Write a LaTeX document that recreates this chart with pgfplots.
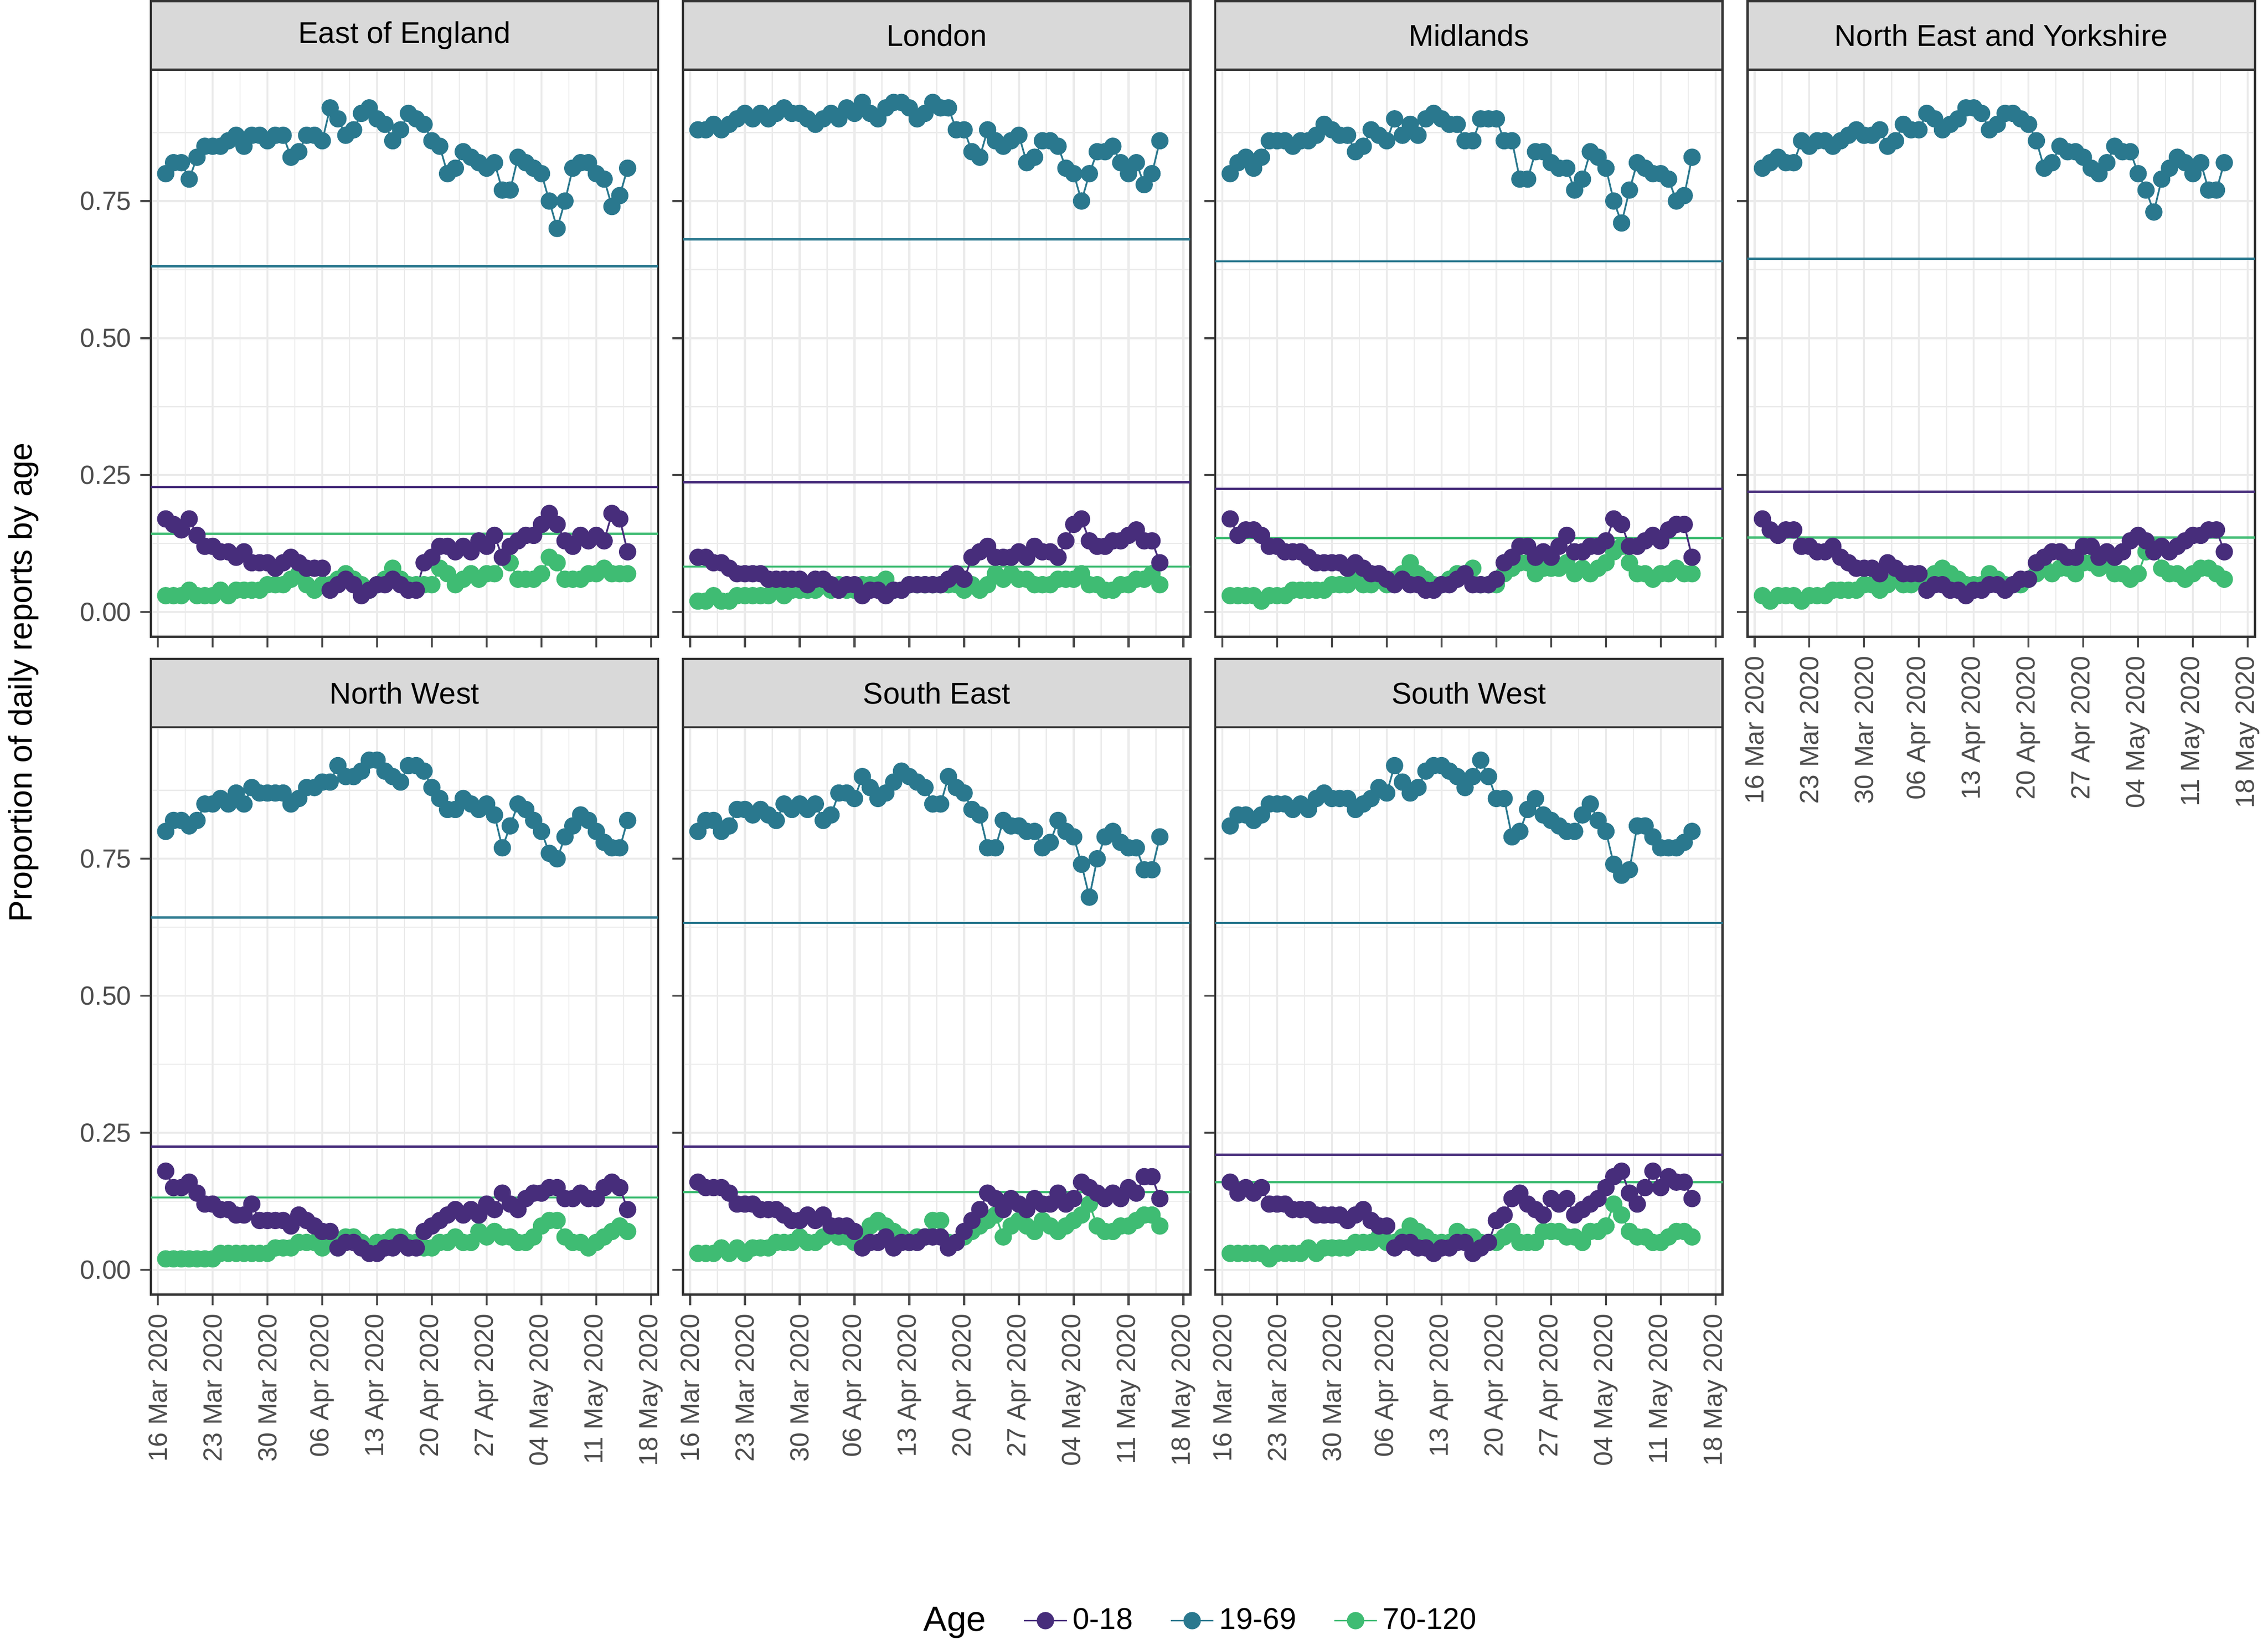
\documentclass[border=0pt]{standalone}
\usepackage{pgfplots}
\pgfplotsset{compat=1.18}
\usepackage{pgfplotstable}
\usepgfplotslibrary{groupplots}
\usepackage{fontspec}
\setmainfont{Liberation Sans}
\definecolor{cA}{HTML}{472D7B}
\definecolor{cB}{HTML}{2A788E}
\definecolor{cC}{HTML}{3FBC73}
\definecolor{gridc}{HTML}{EBEBEB}
\definecolor{tickc}{HTML}{4D4D4D}
\pgfplotstableread{
d a b c
1 .17 .80 .03
2 .16 .82 .03
3 .15 .82 .03
4 .17 .79 .04
5 .14 .83 .03
6 .12 .85 .03
7 .12 .85 .03
8 .11 .85 .04
9 .11 .86 .03
10 .10 .87 .04
11 .11 .85 .04
12 .09 .87 .04
13 .09 .87 .04
14 .09 .86 .05
15 .08 .87 .05
16 .09 .87 .05
17 .10 .83 .06
18 .09 .84 .07
19 .08 .87 .05
20 .08 .87 .04
21 .08 .86 .05
22 .04 .92 .05
23 .05 .90 .06
24 .06 .87 .07
25 .05 .88 .06
26 .03 .91 .05
27 .04 .92 .04
28 .05 .90 .05
29 .05 .89 .06
30 .06 .86 .08
31 .05 .88 .06
32 .04 .91 .05
33 .04 .90 .05
34 .09 .89 .05
35 .10 .86 .05
36 .12 .85 .08
37 .12 .80 .07
38 .11 .81 .05
39 .12 .84 .06
40 .11 .83 .07
41 .13 .82 .06
42 .12 .81 .07
43 .14 .82 .07
44 .10 .77 .10
45 .12 .77 .09
46 .13 .83 .06
47 .14 .82 .06
48 .14 .81 .06
49 .16 .80 .07
50 .18 .75 .10
51 .16 .70 .09
52 .13 .75 .06
53 .12 .81 .06
54 .14 .82 .06
55 .13 .82 .07
56 .14 .80 .07
57 .13 .79 .08
58 .18 .74 .07
59 .17 .76 .07
60 .11 .81 .07
}\tEE
\pgfplotstableread{
d a b c
1 .10 .88 .02
2 .10 .88 .02
3 .09 .89 .03
4 .09 .88 .02
5 .08 .89 .02
6 .07 .90 .03
7 .07 .91 .03
8 .07 .90 .03
9 .07 .91 .03
10 .06 .90 .03
11 .06 .91 .04
12 .06 .92 .03
13 .06 .91 .04
14 .06 .91 .04
15 .05 .90 .04
16 .06 .89 .04
17 .06 .90 .05
18 .05 .91 .04
19 .04 .90 .05
20 .05 .92 .04
21 .05 .91 .04
22 .03 .93 .05
23 .04 .91 .05
24 .04 .90 .05
25 .03 .92 .06
26 .04 .93 .04
27 .04 .93 .04
28 .05 .92 .05
29 .05 .90 .05
30 .05 .91 .05
31 .05 .93 .05
32 .05 .92 .05
33 .06 .92 .05
34 .07 .88 .05
35 .06 .88 .04
36 .10 .84 .05
37 .11 .83 .04
38 .12 .88 .05
39 .10 .86 .07
40 .10 .85 .06
41 .10 .86 .07
42 .11 .87 .06
43 .10 .82 .06
44 .12 .83 .05
45 .11 .86 .05
46 .11 .86 .05
47 .10 .85 .06
48 .13 .81 .06
49 .16 .80 .06
50 .17 .75 .07
51 .13 .80 .05
52 .12 .84 .05
53 .12 .84 .04
54 .13 .85 .04
55 .13 .82 .05
56 .14 .80 .05
57 .15 .82 .06
58 .13 .78 .06
59 .13 .80 .07
60 .09 .86 .05
}\tLO
\pgfplotstableread{
d a b c
1 .17 .80 .03
2 .14 .82 .03
3 .15 .83 .03
4 .15 .81 .03
5 .14 .83 .02
6 .12 .86 .03
7 .12 .86 .03
8 .11 .86 .03
9 .11 .85 .04
10 .11 .86 .04
11 .10 .86 .04
12 .09 .87 .04
13 .09 .89 .04
14 .09 .88 .05
15 .09 .87 .05
16 .08 .87 .05
17 .09 .84 .06
18 .08 .85 .05
19 .07 .88 .05
20 .07 .87 .06
21 .06 .86 .05
22 .05 .90 .06
23 .06 .87 .07
24 .05 .89 .09
25 .05 .87 .07
26 .04 .90 .06
27 .04 .91 .05
28 .05 .90 .05
29 .05 .89 .06
30 .06 .89 .07
31 .07 .86 .07
32 .05 .86 .08
33 .05 .90 .05
34 .05 .90 .05
35 .06 .90 .05
36 .09 .86 .07
37 .10 .86 .08
38 .12 .79 .09
39 .12 .79 .09
40 .10 .84 .07
41 .11 .84 .08
42 .10 .82 .08
43 .12 .81 .08
44 .14 .81 .09
45 .11 .77 .07
46 .11 .79 .08
47 .12 .84 .07
48 .12 .83 .08
49 .13 .81 .09
50 .17 .75 .11
51 .16 .71 .12
52 .12 .77 .09
53 .12 .82 .07
54 .13 .81 .07
55 .14 .80 .06
56 .13 .80 .07
57 .15 .79 .07
58 .16 .75 .08
59 .16 .76 .07
60 .10 .83 .07
}\tMI
\pgfplotstableread{
d a b c
1 .17 .81 .03
2 .15 .82 .02
3 .14 .83 .03
4 .15 .82 .03
5 .15 .82 .03
6 .12 .86 .02
7 .12 .85 .03
8 .11 .86 .03
9 .11 .86 .03
10 .12 .85 .04
11 .10 .86 .04
12 .09 .87 .04
13 .08 .88 .04
14 .08 .87 .05
15 .08 .87 .05
16 .07 .88 .04
17 .09 .85 .05
18 .08 .86 .06
19 .07 .89 .05
20 .07 .88 .05
21 .07 .88 .06
22 .04 .91 .06
23 .05 .90 .07
24 .05 .88 .08
25 .04 .89 .07
26 .04 .90 .06
27 .03 .92 .05
28 .04 .92 .05
29 .04 .91 .05
30 .05 .88 .07
31 .05 .89 .06
32 .04 .91 .05
33 .05 .91 .05
34 .06 .90 .05
35 .06 .89 .06
36 .09 .86 .07
37 .10 .81 .08
38 .11 .82 .07
39 .11 .85 .08
40 .10 .84 .08
41 .10 .84 .07
42 .12 .83 .09
43 .12 .81 .09
44 .10 .80 .08
45 .11 .82 .09
46 .10 .85 .07
47 .11 .84 .07
48 .13 .84 .06
49 .14 .80 .07
50 .13 .77 .11
51 .11 .73 .12
52 .12 .79 .08
53 .11 .81 .07
54 .12 .83 .07
55 .13 .82 .06
56 .14 .80 .07
57 .14 .82 .08
58 .15 .77 .08
59 .15 .77 .07
60 .11 .82 .06
}\tNE
\pgfplotstableread{
d a b c
1 .18 .80 .02
2 .15 .82 .02
3 .15 .82 .02
4 .16 .81 .02
5 .14 .82 .02
6 .12 .85 .02
7 .12 .85 .02
8 .11 .86 .03
9 .11 .85 .03
10 .10 .87 .03
11 .10 .85 .03
12 .12 .88 .03
13 .09 .87 .03
14 .09 .87 .03
15 .09 .87 .04
16 .09 .87 .04
17 .08 .85 .04
18 .10 .86 .05
19 .09 .88 .05
20 .08 .88 .05
21 .07 .89 .04
22 .07 .89 .05
23 .04 .92 .04
24 .05 .90 .06
25 .05 .90 .06
26 .04 .91 .05
27 .03 .93 .04
28 .03 .93 .05
29 .04 .91 .05
30 .04 .90 .06
31 .05 .89 .06
32 .04 .92 .05
33 .04 .92 .05
34 .07 .91 .04
35 .08 .88 .04
36 .09 .86 .05
37 .10 .84 .05
38 .11 .84 .06
39 .10 .86 .05
40 .11 .85 .05
41 .10 .84 .07
42 .12 .85 .06
43 .11 .83 .07
44 .14 .77 .06
45 .12 .81 .06
46 .11 .85 .05
47 .13 .84 .05
48 .14 .82 .06
49 .14 .80 .08
50 .15 .76 .09
51 .15 .75 .09
52 .13 .79 .06
53 .13 .81 .05
54 .14 .83 .05
55 .13 .82 .04
56 .13 .80 .05
57 .15 .78 .06
58 .16 .77 .07
59 .15 .77 .08
60 .11 .82 .07
}\tNW
\pgfplotstableread{
d a b c
1 .16 .80 .03
2 .15 .82 .03
3 .15 .82 .03
4 .15 .80 .04
5 .14 .81 .03
6 .12 .84 .04
7 .12 .84 .03
8 .12 .83 .04
9 .11 .84 .04
10 .11 .83 .04
11 .11 .82 .05
12 .10 .85 .05
13 .09 .84 .05
14 .09 .85 .06
15 .10 .84 .05
16 .09 .85 .05
17 .10 .82 .06
18 .08 .83 .07
19 .08 .87 .06
20 .08 .87 .06
21 .07 .86 .05
22 .04 .90 .06
23 .05 .88 .08
24 .05 .86 .09
25 .06 .87 .08
26 .04 .89 .07
27 .05 .91 .06
28 .05 .90 .05
29 .05 .89 .06
30 .06 .88 .06
31 .06 .85 .09
32 .06 .85 .09
33 .04 .90 .05
34 .05 .88 .05
35 .07 .87 .06
36 .09 .84 .07
37 .11 .83 .08
38 .14 .77 .09
39 .13 .77 .10
40 .11 .82 .06
41 .13 .81 .08
42 .12 .81 .09
43 .11 .80 .08
44 .13 .80 .07
45 .12 .77 .09
46 .12 .78 .08
47 .14 .82 .07
48 .12 .80 .08
49 .13 .79 .09
50 .16 .74 .10
51 .15 .68 .12
52 .14 .75 .08
53 .13 .79 .07
54 .14 .80 .07
55 .13 .78 .08
56 .15 .77 .08
57 .14 .77 .09
58 .17 .73 .10
59 .17 .73 .10
60 .13 .79 .08
}\tSE
\pgfplotstableread{
d a b c
1 .16 .81 .03
2 .14 .83 .03
3 .15 .83 .03
4 .14 .82 .03
5 .15 .83 .03
6 .12 .85 .02
7 .12 .85 .03
8 .12 .85 .03
9 .11 .84 .03
10 .11 .85 .03
11 .11 .84 .04
12 .10 .86 .03
13 .10 .87 .04
14 .10 .86 .04
15 .10 .86 .04
16 .09 .86 .04
17 .10 .84 .05
18 .11 .85 .05
19 .09 .86 .05
20 .08 .88 .06
21 .08 .87 .05
22 .04 .92 .05
23 .05 .89 .06
24 .05 .87 .08
25 .04 .88 .07
26 .04 .91 .06
27 .03 .92 .05
28 .04 .92 .05
29 .04 .91 .05
30 .05 .90 .07
31 .05 .88 .06
32 .03 .90 .06
33 .04 .93 .05
34 .05 .90 .05
35 .09 .86 .05
36 .10 .86 .06
37 .13 .79 .07
38 .14 .80 .05
39 .12 .84 .05
40 .11 .86 .05
41 .10 .83 .07
42 .13 .82 .07
43 .12 .81 .07
44 .13 .80 .06
45 .10 .80 .06
46 .11 .83 .05
47 .12 .85 .07
48 .13 .82 .07
49 .15 .80 .08
50 .17 .74 .12
51 .18 .72 .10
52 .14 .73 .07
53 .12 .81 .06
54 .15 .81 .06
55 .18 .79 .05
56 .15 .77 .05
57 .17 .77 .06
58 .16 .77 .07
59 .16 .78 .07
60 .13 .80 .06
}\tSW
\pgfplotsset{
  panel/.style={
    scale only axis, width=7.12cm, height=7.96cm,
    xmin=-0.9, xmax=63.9, ymin=-0.045, ymax=0.99,
    axis line style={draw=black!80, line width=0.9pt},
    ytick={0,0.25,0.5,0.75}, yticklabels={0.00,0.25,0.50,0.75},
    minor ytick={0.125,0.375,0.625,0.875},
    xtick={0,7,...,63},
    minor xtick={3.5,10.5,...,59.5},
    xticklabels={16 Mar 2020,23 Mar 2020,30 Mar 2020,06 Apr 2020,13 Apr 2020,20 Apr 2020,27 Apr 2020,04 May 2020,11 May 2020,18 May 2020},
    xticklabel style={rotate=90, anchor=east, font=\fontsize{10.5}{12}\selectfont, text=tickc},
    yticklabel style={font=\fontsize{10.5}{12}\selectfont, text=tickc},
    /pgf/number format/assume math mode=true,
    grid=both,
    major grid style={draw=gridc, line width=0.8pt},
    minor grid style={draw=gridc, line width=0.45pt},
    tick align=outside, tick pos=left,
    major tick length=0.15cm, minor tick length=0pt,
    major tick style={draw=black!70, line width=0.8pt},
    title style={at={(0.5,1)}, anchor=south, yshift=-6.45pt, fill=black!15, draw=black!80, line width=0.9pt, minimum width=7.12cm, minimum height=0.96cm, inner sep=0pt, font=\fontsize{12}{14}\selectfont},
    clip=false,
  },
  sA/.style={cA, line width=0.7pt, mark=*, mark size=3.1pt, mark options={solid}},
  sB/.style={cB, line width=0.7pt, mark=*, mark size=3.1pt, mark options={solid}},
  sC/.style={cC, line width=0.7pt, mark=*, mark size=3.1pt, mark options={solid}},
  hA/.style={cA, line width=0.9pt},
  hB/.style={cB, line width=0.9pt},
  hC/.style={cC, line width=0.9pt},
}
\newcommand{\panelplots}[4]{%
  \addplot[hB] coordinates {(-0.9,#2) (63.9,#2)};
  \addplot[hA] coordinates {(-0.9,#3) (63.9,#3)};
  \addplot[hC] coordinates {(-0.9,#4) (63.9,#4)};
  \addplot[sC] table[x=d,y=c] {#1};
  \addplot[sA] table[x=d,y=a] {#1};
  \addplot[sB] table[x=d,y=b] {#1};
}
\begin{document}
\begin{tikzpicture}
\begin{groupplot}[group style={group size=4 by 2, horizontal sep=0.35cm, vertical sep=1.27cm, yticklabels at=edge left}, panel]
\nextgroupplot[title={East of England}, xticklabels={}]
\panelplots{\tEE}{0.631}{0.228}{0.143}
\nextgroupplot[title={London}, xticklabels={}]
\panelplots{\tLO}{0.68}{0.237}{0.083}
\nextgroupplot[title={Midlands}, xticklabels={}]
\panelplots{\tMI}{0.64}{0.225}{0.135}
\nextgroupplot[title={North East and Yorkshire}]
\panelplots{\tNE}{0.645}{0.22}{0.136}
\nextgroupplot[title={North West}]
\panelplots{\tNW}{0.643}{0.225}{0.132}
\nextgroupplot[title={South East}]
\panelplots{\tSE}{0.633}{0.225}{0.142}
\nextgroupplot[title={South West},
  legend style={at={(-0.03,-0.575)}, anchor=center, draw=none, fill=none, legend columns=-1, font=\fontsize{12}{14}\selectfont, /tikz/every even column/.append style={column sep=0.45cm}},
  legend cell align=left]
\addlegendimage{empty legend}\addlegendentry{\fontsize{14}{16}\selectfont Age}
\addlegendimage{sA}\addlegendentry{0-18}
\addlegendimage{sB}\addlegendentry{19-69}
\addlegendimage{sC}\addlegendentry{70-120}
\panelplots{\tSW}{0.633}{0.21}{0.16}
\end{groupplot}
\node[rotate=90, anchor=south, font=\fontsize{13}{15}\selectfont] at ([xshift=-1.45cm, yshift=-0.64cm]group c1r1.south west) {Proportion of daily reports by age};
\end{tikzpicture}
\end{document}
